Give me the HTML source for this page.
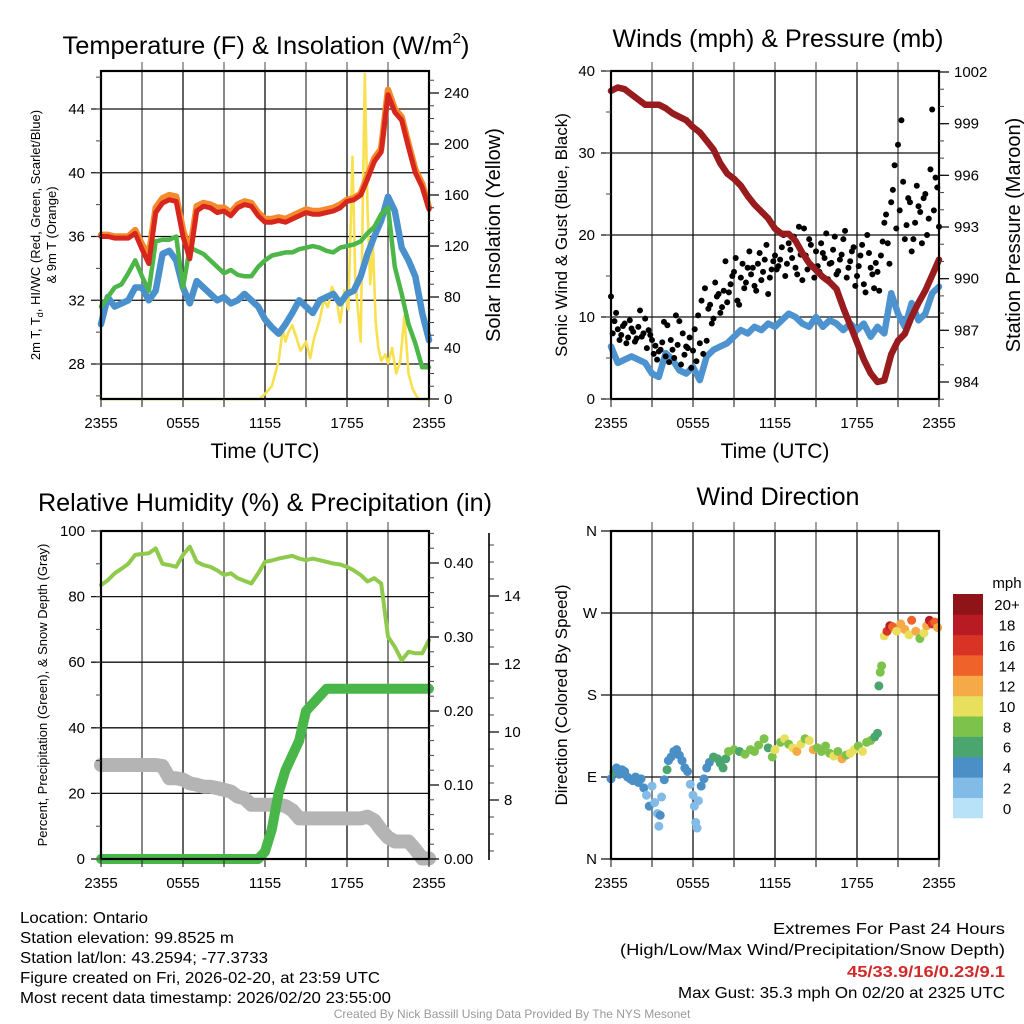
<!DOCTYPE html>
<html><head><meta charset="utf-8"><style>
html,body{margin:0;padding:0;background:#fff;}
svg{display:block;font-family:"Liberation Sans",Arial,sans-serif;}
</style></head><body>
<svg id="c" width="1024" height="1024" viewBox="0 0 1024 1024"></svg>
<script>
// ---------- DATA ----------
const halfHours = []; for (let i = 0; i <= 48; i++) halfHours.push(i / 2);
const xTickLabels = ["2355", "0555", "1155", "1755", "2355"];
const tempLeftTicks = [28, 32, 36, 40, 44];
const solarTicks = [0, 40, 80, 120, 160, 200, 240];
const windTicks = [0, 10, 20, 30, 40];
const pressTicks = [984, 987, 990, 993, 996, 999, 1002];
const rhTicks = [0, 20, 40, 60, 80, 100];
const precipTicks = ["0.00", "0.10", "0.20", "0.30", "0.40"];
const snowTicks = [8, 10, 12, 14];
const dirTickLabels = ["N", "E", "S", "W", "N"];
const speedBinLabels = ["0", "2", "4", "6", "8", "10", "12", "14", "16", "18", "20+"];

const temp2m = [36.0,36.0,35.9,35.9,35.9,36.2,35.2,34.3,37.5,38.1,38.3,38.2,36.0,34.6,37.6,37.9,37.8,37.5,37.6,37.3,37.8,38.0,37.9,37.3,36.9,36.9,37.0,36.9,37.1,37.3,37.5,37.4,37.4,37.5,37.6,37.8,38.2,38.3,38.6,39.6,40.7,41.3,44.9,43.8,43.3,41.6,40.0,39.1,37.7];
const temp9m = [36.1,36.1,36.0,36.0,36.0,36.4,35.5,34.8,37.8,38.4,38.6,38.5,36.4,35.0,37.9,38.1,38.0,37.8,37.8,37.5,38.0,38.2,38.1,37.5,37.1,37.1,37.2,37.1,37.3,37.5,37.7,37.6,37.6,37.7,37.8,38.0,38.3,38.4,38.7,39.8,40.9,41.5,45.2,44.0,43.5,41.8,40.2,39.3,37.8];
const dewpoint = [31.6,32.2,32.8,33.0,33.7,34.5,33.5,32.6,35.7,35.8,35.8,36.0,32.8,35.3,35.1,34.9,34.5,34.1,33.7,33.9,33.6,33.5,33.5,34.1,34.5,34.8,34.9,35.0,35.0,35.2,35.3,35.4,35.3,35.1,35.0,35.3,35.4,35.5,35.7,36.2,36.6,37.4,37.8,34.1,32.4,30.5,29.3,27.8,27.8];
const windChill = [30.5,32.2,31.6,31.8,32.0,32.8,32.8,32.0,32.6,34.9,35.1,34.5,32.8,31.8,33.2,32.8,32.4,32.0,32.2,31.8,32.0,32.4,32.0,31.6,30.8,30.3,29.9,30.5,31.2,32.0,31.6,31.2,32.0,32.2,32.4,31.8,32.4,32.6,33.5,34.9,36.0,37.0,38.5,37.6,35.3,34.5,33.5,31.2,29.5];
const solarHours = [0,11.6,12,12.5,13,13.3,13.5,13.7,14,14.3,14.6,15,15.3,15.6,16,16.3,16.6,16.9,17.2,17.5,17.8,18.1,18.4,18.6,18.8,19.0,19.3,19.5,19.7,19.9,20.1,20.3,20.5,20.8,21,21.3,21.6,21.9,22.2,22.5,22.8,23.2,24];
const solarVals = [0,0,4,10,30,55,45,52,58,48,38,45,32,48,62,78,72,88,80,60,85,70,190,95,70,45,255,150,90,120,60,40,30,35,28,40,20,30,65,20,8,0,0];

const pressure = [1000.9,1001.1,1001.0,1000.7,1000.4,1000.1,1000.1,1000.1,999.9,999.6,999.4,999.2,998.8,998.5,998.0,997.5,996.7,996.1,995.8,995.4,994.8,994.3,993.9,993.5,992.9,992.6,992.6,992.2,991.5,990.9,990.5,990.1,989.8,989.4,988.3,987.3,986.3,985.3,984.5,984.0,984.1,985.6,986.4,986.8,987.8,988.6,989.3,990.2,991.1];
const windSpeed = [6.4,4.4,4.8,5.2,4.8,4.4,3.1,2.7,5.6,4.8,3.5,3.1,3.9,2.3,5.2,6.0,6.4,6.8,7.6,8.4,8.0,8.8,8.4,9.2,8.8,9.6,10.4,10.0,9.2,8.8,10.0,8.8,9.6,9.2,8.4,9.2,8.4,9.2,7.6,8.8,8.0,12.9,10.4,8.8,11.7,9.6,10.4,12.9,13.7];
const gusts = [12.5,9.5,8.5,7.8,9.2,7.5,8.6,7.0,8.8,
 7.6,9.8,8.4,7.2,6.5,5.8,6.9,5.2,
 4.5,6.0,10.2,9.5,8.0,6.4,7.5,5.9,
 4.6,6.8,5.5,7.1,11.5,9.8,12.5,10.5,
 13.2,11.8,14.0,15.5,12.0,14.8,13.5,16.0,
 15.2,13.8,16.5,14.5,17.0,12.8,15.8,17.5,
 16.2,18.5,15.0,19.0,17.2,16.0,21.0,14.5,
 17.5,19.5,16.2,18.0,15.5,17.8,20.2,16.5,
 18.2,15.2,17.0,19.5,14.8,16.8,18.5,15.0,
 17.5,14.0,20.0,16.0,13.5,15.5,17.5,21.5,
 19.0,24.0,28.5,31.0,34.0,19.5,24.5,18.0,
 21.5,23.5,19.0,25.0,22.0,35.3,27.0,21.0];
const gusts2 = [8.0,10.5,7.2,8.9,6.8,9.6,8.2,7.4,
 10.8,8.0,6.2,7.8,5.5,4.8,6.0,9.4,
 9.0,7.2,5.0,6.6,4.2,5.4,6.2,3.8,
 8.5,10.2,12.0,13.5,11.0,9.2,14.2,12.8,
 11.2,16.8,13.0,15.0,17.2,11.5,16.5,14.2,
 18.0,16.0,13.2,17.8,15.5,18.8,14.8,16.8,
 15.8,17.0,20.0,16.5,18.2,19.8,15.2,17.6,
 20.8,15.8,18.8,14.8,16.2,19.0,17.2,14.6,
 16.6,19.8,15.6,17.6,20.5,16.0,18.0,13.8,
 16.2,18.8,13.0,17.8,15.2,16.6,13.2,19.2,
 22.5,16.5,25.5,20.8,23.0,26.5,21.2,24.0,
 19.5,26.0,22.8,24.5,20.0,28.0,23.0,25.8];

const relHum = [83.5,85,87.1,88.5,90,92.7,93.0,93.2,94.7,90.0,89.6,89.1,92.7,95.2,90.6,89.6,89.1,88.0,86.6,87.1,85.6,84.8,84.0,87.1,90.6,91.0,91.6,92.0,92.4,91.6,91.1,91.6,91.1,90.6,90.1,89.8,89.1,88.0,86.6,84.6,85.6,84.0,67.8,64.7,60.6,63.2,62.7,62.7,66.7];
const precip = [0,0,0,0,0,0,0,0,0,0,0,0,0,0,0,0,0,0,0,0,0,0,0,0,0.01,0.04,0.09,0.12,0.14,0.16,0.20,0.21,0.22,0.23,0.23,0.23,0.23,0.23,0.23,0.23,0.23,0.23,0.23,0.23,0.23,0.23,0.23,0.23,0.23];
const snowDepth = [9.03,9.03,9.03,9.03,9.03,9.03,9.03,9.03,9.03,9.0,8.64,8.64,8.60,8.49,8.45,8.39,8.39,8.35,8.30,8.25,8.10,8.05,7.86,7.86,7.86,7.86,7.86,7.82,7.70,7.46,7.46,7.46,7.46,7.46,7.46,7.46,7.46,7.46,7.46,7.51,7.40,7.12,6.90,6.78,6.78,6.78,6.55,6.28,6.28];

const dirHours = [0,0.2,0.4,0.6,0.8,1.0,1.2,1.4,1.6,1.8,2.0,2.2,2.4,2.6,2.8,3.0,3.2,3.4,3.5,3.6,3.7,3.9,4.1,4.2,4.4,4.6,4.8,5.0,5.2,5.4,5.6,5.8,6.0,6.1,6.2,6.3,6.4,6.6,6.8,7.0,7.2,7.5,7.8,8.0,8.2,8.4,8.6,9.0,9.4,9.8,10.2,10.5,10.8,11.2,11.5,11.8,12.0,12.4,12.7,13.0,13.3,13.6,13.9,14.2,14.5,14.8,15.1,15.4,15.7,16.0,16.3,16.6,16.9,17.2,17.5,17.8,18.1,18.4,18.7,19.0,19.3,19.5,19.6,19.7,19.8,20.0,20.2,20.4,20.6,20.9,21.2,21.5,21.8,22.0,22.3,22.6,22.9,23.1,23.3,23.5,23.7,23.9];
const dirVals = [88,95,100,93,98,96,90,88,86,90,84,88,78,70,58,80,62,50,36,48,68,87,98,108,112,118,120,114,108,100,96,82,70,58,40,34,64,80,88,100,106,112,110,105,100,110,118,120,118,115,120,118,125,132,122,112,120,128,132,126,122,118,126,132,130,120,122,118,124,116,113,118,110,114,116,120,124,118,128,130,134,138,190,205,212,245,250,256,255,250,258,252,246,262,250,242,248,256,262,258,260,254];
const dirSpeeds = [5,6,4,4,4,5,4,4,4,4,4,4,4,3,4,3,2,2,2,4,3,4,6,4,4,4,4,4,4,4,4,2,2,2,2,2,2,4,4,4,4,6,6,6,6,6,8,8,6,8,8,8,8,8,6,8,10,8,10,8,10,12,10,8,10,12,8,8,8,8,10,8,12,8,10,10,8,10,8,8,6,6,6,8,8,10,16,18,14,10,12,12,10,14,12,8,10,12,18,16,14,12];
const speedColors = ["#b8e2f8","#82bce6","#4a8fc6","#4aa66e","#7dc24a","#e8e05c","#f6a947","#ef6229","#d93326","#b81b24","#8e1418"];

// ---------- HELPERS ----------
const svg = document.getElementById('c');
const NS = 'http://www.w3.org/2000/svg';
function mk(tag, attrs, parent) {
  const e = document.createElementNS(NS, tag);
  for (const k in attrs) e.setAttribute(k, attrs[k]);
  (parent || svg).appendChild(e);
  return e;
}
function txt(str, x, y, size, anchor, parent, extra) {
  const t = mk('text', Object.assign({x: x, y: y, 'font-size': size, 'text-anchor': anchor || 'middle', fill: '#000'}, extra || {}), parent);
  t.textContent = str;
  return t;
}
function scale(d0, d1, r0, r1) { return v => r0 + (v - d0) * (r1 - r0) / (d1 - d0); }

function makePanel(name, x0, y0) {
  const g = mk('g', {});
  
  
  const P = {g: g, x0: x0, x1: x0 + 328, y0: y0, y1: y0 + 328};
  P.x = scale(0, 24, P.x0, P.x1);
  return P;
}
function frame(P, hLines, yScale) {
  const grid = mk('g', {}, P.g);
  
  
  for (let h = 3; h < 24; h += 3) {
    mk('line', {x1: P.x(h), x2: P.x(h), y1: P.y0, y2: P.y1, stroke: (h % 6 === 0) ? '#222' : '#555', 'stroke-width': 1.4}, grid);
    mk('line', {x1: P.x(h), x2: P.x(h), y1: P.y0 - 9, y2: P.y0, stroke: '#444', 'stroke-width': 1}, grid);
  }
  hLines.forEach(v => mk('line', {x1: P.x0 - 10, x2: P.x1, y1: yScale(v), y2: yScale(v), stroke: '#111', 'stroke-width': 1.3}, grid));
  return grid;
}
function xAxis(P, withTitle) {
  const ax = mk('g', {}, P.g);
  
  
  for (let h = 0; h <= 24; h += 3) mk('line', {x1: P.x(h), x2: P.x(h), y1: P.y1, y2: P.y1 + 8, stroke: '#333', 'stroke-width': 1.2}, ax);
  xTickLabels.forEach((l, i) => txt(l, P.x(i * 6), P.y1 + 29, 15, 'middle', ax));
  if (withTitle) {
    const t = txt('Time (UTC)', (P.x0 + P.x1) / 2, P.y1 + 59, 21, 'middle', ax);
    
    
  }
}
function leftAxis(P, ticks, yS, minorVals, fmt) {
  const ax = mk('g', {}, P.g);
  
  
  minorVals.forEach(v => mk('line', {x1: P.x0 - 5, x2: P.x0, y1: yS(v), y2: yS(v), stroke: '#444', 'stroke-width': 1}, ax));
  ticks.forEach(v => txt(fmt ? fmt(v) : String(v), P.x0 - 16, yS(v) + 5, 15, 'end', ax));
}
function rightAxis(P, ax_x, ticks, yS, minorVals, labels, name) {
  const ax = mk('g', {}, P.g);
  
  
  minorVals.forEach(v => mk('line', {x1: ax_x, x2: ax_x + 5, y1: yS(v), y2: yS(v), stroke: '#444', 'stroke-width': 1}, ax));
  ticks.forEach((v, i) => {
    mk('line', {x1: ax_x, x2: ax_x + 10, y1: yS(v), y2: yS(v), stroke: '#111', 'stroke-width': 1.3}, ax);
    txt(labels ? labels[i] : String(v), ax_x + 15, yS(v) + 5, 15, 'start', ax);
  });
  return ax;
}
function border(P) {
  const b = mk('rect', {x: P.x0, y: P.y0, width: 328, height: 328, fill: 'none', stroke: '#000', 'stroke-width': 2.2}, P.g);
  
  
}
function line(P, xs, ys, yS, color, w, name) {
  const d = xs.map((h, i) => (i ? 'L' : 'M') + P.x(h).toFixed(1) + ',' + yS(ys[i]).toFixed(1)).join('');
  const p = mk('path', {d: d, fill: 'none', stroke: color, 'stroke-width': w, 'stroke-linejoin': 'round', 'stroke-linecap': 'round'}, P.g);
  
  
  return p;
}
function title(str, x, y, len, sup) {
  const t = txt(str, x, y, 25, 'middle');
  if (sup) { const s = mk('tspan', {'font-size': 15, dy: -11}, t); s.textContent = sup; const e = mk('tspan', {dy: 11}, t); e.textContent = ')'; }
  t.setAttribute('textLength', len);
  t.setAttribute('lengthAdjust', 'spacingAndGlyphs');
  
  
  return t;
}
function vlabel(str, x, y, size, name) {
  const t = txt(str, 0, 0, size, 'middle', svg, {transform: 'translate(' + x + ',' + y + ') rotate(-90)'});
  
  
  return t;
}
function range(a, b, s) { const r = []; for (let v = a; v <= b + 1e-9; v += s) r.push(+v.toFixed(4)); return r; }

// ---------- PANEL 1: Temperature ----------
const P1 = makePanel('temperature-panel', 101, 71);
const yT = scale(28, 44, 364, 109);
const yS = scale(0, 240, 399, 93);
frame(P1, tempLeftTicks, yT);
line(P1, solarHours, solarVals, yS, '#f8e04e', 2.6, 'solar-insolation-line');
line(P1, halfHours, windChill, yT, '#4a90cc', 6.5, 'windchill-line');
line(P1, halfHours, dewpoint, yT, '#4cb648', 4.5, 'dewpoint-line');
line(P1, halfHours, temp9m, yT, '#f58a2c', 6.5, 'temp-9m-line');
line(P1, halfHours, temp2m, yT, '#d7261e', 5, 'temp-2m-line');
border(P1);
leftAxis(P1, tempLeftTicks, yT, range(26, 46, 2));
rightAxis(P1, 429, solarTicks, yS, range(0, 250, 10), null, 'solar-y-axis');
xAxis(P1, true);
title('Temperature (F) & Insolation (W/m', 266, 54, 407, '2');
const t1 = vlabel('', 40, 235, 13, 'left-y-axis-title');
t1.textContent = '2m T, T';
const sub = mk('tspan', {'font-size': 9, dy: 3}, t1); sub.textContent = 'd';
const rest = mk('tspan', {dy: -3}, t1); rest.textContent = ', HI/WC (Red, Green, Scarlet/Blue)';
vlabel('& 9m T (Orange)', 56, 235, 13, 'left-y-axis-title-line2');
vlabel('Solar Insolation (Yellow)', 500, 235, 20, 'right-y-axis-title');

// ---------- PANEL 2: Winds ----------
const P2 = makePanel('winds-panel', 611, 71);
const yW = scale(0, 40, 399, 71);
const yP = scale(984, 1002, 382, 72);
frame(P2, windTicks, yW);
line(P2, halfHours, windSpeed, yW, '#4d93d0', 6.5, 'wind-speed-line');
const gg = mk('g', {}, P2.g);


gusts.forEach((v, i) => {
  const c = mk('circle', {cx: P2.x(i * 0.25), cy: yW(v), r: 3, fill: '#000'}, gg);
  
  
});
gusts2.forEach((v, i) => {
  const c = mk('circle', {cx: P2.x(0.125 + i * 0.25), cy: yW(v), r: 3, fill: '#000'}, gg);
  
  
});
line(P2, halfHours, pressure, yP, '#981b1e', 6.5, 'pressure-line');
border(P2);
leftAxis(P2, windTicks, yW, range(0, 40, 5));
rightAxis(P2, 939, pressTicks, yP, range(983, 1002, 1), null, 'pressure-y-axis');
xAxis(P2, true);
title('Winds (mph) & Pressure (mb)', 778, 47, 331);
vlabel('Sonic Wind & Gust (Blue, Black)', 567, 235, 17, 'left-y-axis-title');
vlabel('Station Pressure (Maroon)', 1020, 235, 20, 'right-y-axis-title');

// ---------- PANEL 3: RH & Precip ----------
const P3 = makePanel('humidity-precip-panel', 101, 531);
const yR = scale(0, 100, 859, 531);
const yPr = scale(0, 0.1, 859, 785);
const ySn = scale(8, 10, 800, 732);
frame(P3, rhTicks, yR);
line(P3, halfHours, snowDepth, ySn, '#b4b4b4', 14, 'snow-depth-line');
line(P3, halfHours, precip, yPr, '#48b648', 10, 'precipitation-line');
line(P3, halfHours, relHum, yR, '#8fca4c', 4, 'relative-humidity-line');
border(P3);
leftAxis(P3, rhTicks, yR, range(0, 100, 10));
rightAxis(P3, 429, [0, 0.1, 0.2, 0.3, 0.4], yPr, range(0, 0.44, 0.02), precipTicks, 'precip-y-axis');
const snowAx = rightAxis(P3, 489, snowTicks, ySn, range(6.5, 15.5, 0.5), null, 'snow-y-axis');
mk('line', {x1: 489, x2: 489, y1: 533, y2: 860, stroke: '#000', 'stroke-width': 1.6}, snowAx);
xAxis(P3, false);
title('Relative Humidity (%) & Precipitation (in)', 265, 511, 454);
vlabel('Percent, Precipitation (Green), & Snow Depth (Gray)', 47, 695, 13, 'left-y-axis-title');

// ---------- PANEL 4: Wind direction ----------
const P4 = makePanel('wind-direction-panel', 611, 531);
const yD = scale(0, 360, 859, 531);
const dirTicks = [0, 90, 180, 270, 360];
frame(P4, dirTicks, yD);
const dg = mk('g', {}, P4.g);


dirHours.forEach((h, i) => {
  const bin = Math.min(10, Math.floor(dirSpeeds[i] / 2));
  const c = mk('circle', {cx: P4.x(h), cy: yD(dirVals[i]), r: 4.5, fill: speedColors[bin]}, dg);
  
  
});
border(P4);
const dax = mk('g', {}, P4.g);


dirTicks.forEach((v, i) => txt(dirTickLabels[i], 597, yD(v) + 5, 15, 'end', dax));
xAxis(P4, false);
title('Wind Direction', 778, 505, 163);
vlabel('Direction (Colored By Speed)', 567, 695, 17, 'left-y-axis-title');

// colorbar
const cb = mk('g', {});


const binH = 224 / 11;
speedColors.forEach((c, i) => {
  const yy = 818 - (i + 1) * binH;
  const r = mk('rect', {x: 953, y: yy.toFixed(1), width: 30, height: (binH + 0.3).toFixed(1), fill: c}, cb);
  
  
  txt(speedBinLabels[i], 1007, yy + binH / 2 + 6, 15, 'middle', cb);
});
txt('mph', 1007, 588, 15, 'middle', cb);

// ---------- FOOTER TEXT ----------
const info = mk('g', {});


const infoLines = ['Location: Ontario', 'Station elevation: 99.8525 m', 'Station lat/lon: 43.2594; -77.3733', 'Figure created on Fri, 2026-02-20, at 23:59 UTC', 'Most recent data timestamp: 2026/02/20 23:55:00'];
const infoLens = [128, 214, 248, 360, 371];
infoLines.forEach((s, i) => {
  const t = txt(s, 20, 923 + i * 20, 16, 'start', info);
  t.setAttribute('textLength', infoLens[i]);
  t.setAttribute('lengthAdjust', 'spacingAndGlyphs');
});
const ext = mk('g', {});


const e1 = txt('Extremes For Past 24 Hours', 1005, 934, 16, 'end', ext);
e1.setAttribute('textLength', 232); e1.setAttribute('lengthAdjust', 'spacingAndGlyphs');
const e2 = txt('(High/Low/Max Wind/Precipitation/Snow Depth)', 1005, 955, 16, 'end', ext);
e2.setAttribute('textLength', 385); e2.setAttribute('lengthAdjust', 'spacingAndGlyphs');
const e3 = txt('45/33.9/16/0.23/9.1', 1005, 977, 16, 'end', ext, {fill: '#d12a2a', 'font-weight': 'bold'});
e3.setAttribute('textLength', 158); e3.setAttribute('lengthAdjust', 'spacingAndGlyphs');
const e4 = txt('Max Gust: 35.3 mph On 02/20 at 2325 UTC', 1005, 998, 16, 'end', ext);
e4.setAttribute('textLength', 327); e4.setAttribute('lengthAdjust', 'spacingAndGlyphs');
const cr = txt('Created By Nick Bassill Using Data Provided By The NYS Mesonet', 512, 1018, 12, 'middle', svg, {fill: '#999'});


</script>
</body></html>
